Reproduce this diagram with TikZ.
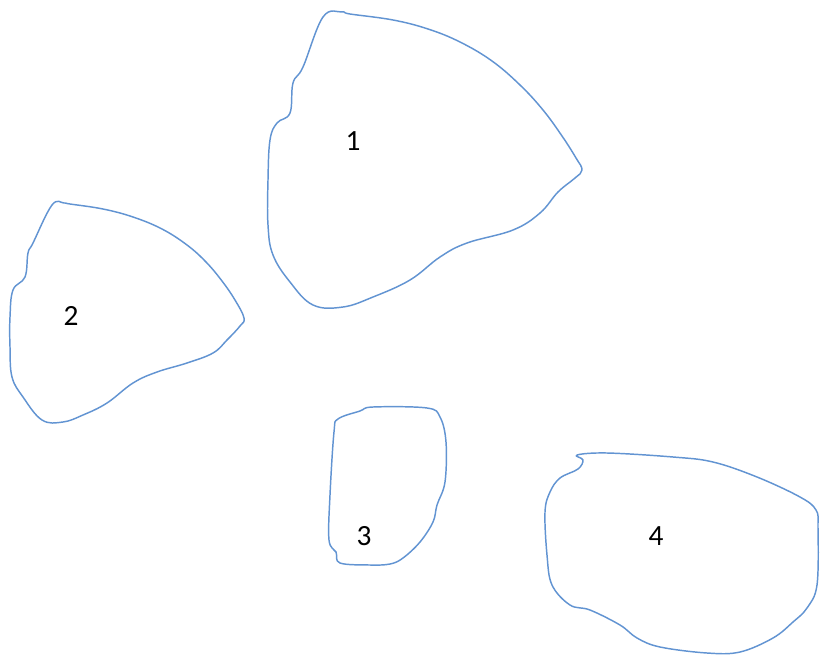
\documentclass[tikz,border=0pt]{standalone}
\usepackage{fontspec}
\setmainfont{Carlito}
\usepackage{tikz}
\definecolor{blobblue}{RGB}{98,148,210}
\tikzstyle{blob}=[draw=blobblue,line width=1.1pt,line join=round]
\tikzstyle{num}=[font=\fontsize{22}{26}\selectfont,text=black,inner sep=0pt]

\begin{document}
\begin{tikzpicture}[x=0.75pt,y=-0.75pt]
\useasboundingbox (0,0) rectangle (820,660);
% region 1
\draw [blob] plot [smooth cycle,tension=0.65] coordinates {(323,17) (342,12) (350,14) (393,20) (428,29) (460,42) (492,61) (520,85) (543,110) (562,136) (576,158) (582,170) (575,178) (558,192) (540,213) (513,230) (467,243) (440,257) (410,280) (373,297) (343,307) (313,305) (290,282) (273,255) (268,225) (268,180) (270,140) (277,123) (290,113) (293,83) (303,67)};
% region 2
\draw [blob] plot [smooth cycle,tension=0.65] coordinates {(52,205) (64,203) (70,204) (103,209) (133,217) (162,229) (187,245) (206,262) (222,281) (235,300) (244,318) (240,326) (227,340) (213,353) (187,363) (157,372) (133,383) (107,403) (83,415) (63,422) (42,420) (23,397) (12,377) (10,347) (10,317) (13,290) (25,277) (28,253) (33,243)};
% region 3
\draw [blob] plot [smooth cycle,tension=0.6] coordinates {(338,419) (360,411) (373,407) (427,408) (440,417) (446,442) (445,482) (437,505) (433,522) (420,542) (403,558) (390,564) (370,565) (340,563) (336,552) (329,540) (330,495) (334,432)};
% region 4
\draw [blob] plot [smooth cycle,tension=0.6] coordinates {(577,455) (583,460) (578,469) (560,478) (550,492) (545,512) (547,555) (552,585) (570,605) (590,610) (620,625) (637,638) (660,647) (707,653) (740,652) (773,638) (793,622) (807,608) (817,585) (818,528) (816,510) (800,497) (757,477) (713,462) (673,457) (607,453)};
\node (n1) [num] at (353,141) {1};
\node (n2) [num] at (71,316) {2};
\node (n3) [num] at (364,536) {3};
\node (n4) [num] at (656,536) {4};
\end{tikzpicture}
\end{document}
